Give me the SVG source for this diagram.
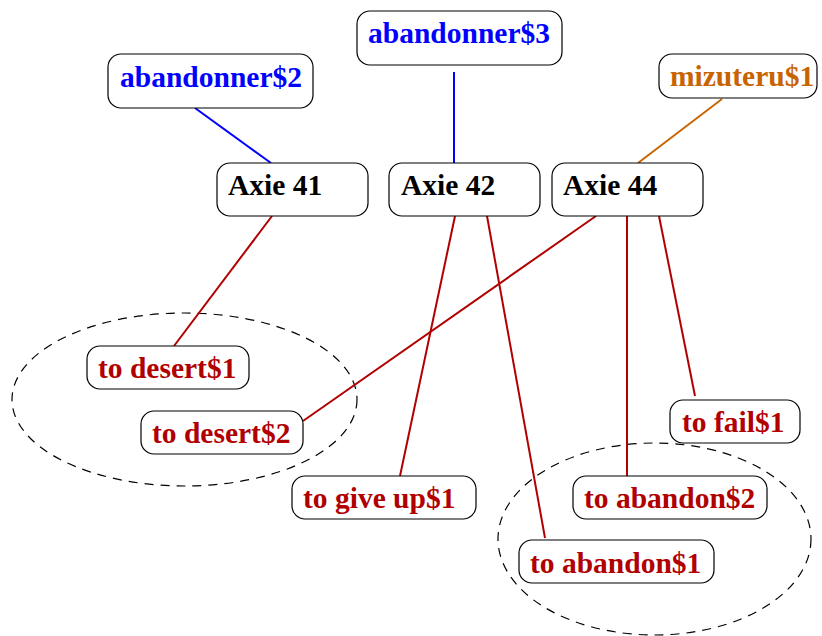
<svg xmlns="http://www.w3.org/2000/svg" width="822" height="636" viewBox="0 0 822 636">
<style>
.box{fill:#fff;stroke:#000;stroke-width:1.2}
text{font-family:"Liberation Serif","Times New Roman",serif;font-weight:bold;font-size:29.5px}
.k{fill:#000}.b{fill:#0000ff}.o{fill:#c86400}.r{fill:#b00000}
.eb{stroke:#0000ff;stroke-width:2;fill:none}
.eo{stroke:#c86400;stroke-width:2;fill:none}
.er{stroke:#b00000;stroke-width:2;fill:none}
.grp{fill:none;stroke:#000;stroke-width:1.2;stroke-dasharray:9 7}
</style>
<rect width="822" height="636" fill="#fff"/>
<g id="groups">
<ellipse class="grp" cx="184.5" cy="399.5" rx="172.5" ry="86.5"/>
<ellipse class="grp" cx="654.5" cy="539" rx="156.5" ry="96"/>
</g>
<g id="connectors">
<line class="eb" x1="195" y1="108" x2="271" y2="163"/>
<line class="eb" x1="454" y1="72" x2="454" y2="163"/>
<line class="eo" x1="722" y1="99" x2="638" y2="163"/>
<line class="er" x1="272" y1="216" x2="174" y2="346"/>
<line class="er" x1="596" y1="216" x2="303" y2="421"/>
<line class="er" x1="455" y1="216" x2="400" y2="476"/>
<line class="er" x1="487" y1="216" x2="545" y2="538"/>
<line class="er" x1="627" y1="216" x2="627" y2="476"/>
<line class="er" x1="659" y1="216" x2="695" y2="396"/>
</g>
<g id="abandonner2"><rect class="box" x="108" y="54" width="205" height="54" rx="13"/><text class="b" x="120" y="87">abandonner$2</text></g>
<g id="abandonner3"><rect class="box" x="357" y="11" width="205" height="54" rx="13"/><text class="b" x="368" y="43">abandonner$3</text></g>
<g id="mizuteru1"><rect class="box" x="659" y="54" width="158" height="44" rx="13"/><text class="o" x="670" y="86">mizuteru$1</text></g>
<g id="axie41"><rect class="box" x="217" y="163" width="151" height="53" rx="13"/><text class="k" x="228" y="195">Axie 41</text></g>
<g id="axie42"><rect class="box" x="389" y="163" width="151" height="53" rx="13"/><text class="k" x="401" y="195">Axie 42</text></g>
<g id="axie44"><rect class="box" x="552" y="163" width="151" height="53" rx="13"/><text class="k" x="563" y="195">Axie 44</text></g>
<g id="desert1"><rect class="box" x="87" y="346" width="162" height="43" rx="13"/><text class="r" x="98" y="378">to desert$1</text></g>
<g id="desert2"><rect class="box" x="141" y="411" width="162" height="43" rx="13"/><text class="r" x="152" y="443">to desert$2</text></g>
<g id="fail1"><rect class="box" x="670" y="400" width="130" height="43" rx="13"/><text class="r" x="682" y="432">to fail$1</text></g>
<g id="giveup1"><rect class="box" x="292" y="476" width="184" height="43" rx="13"/><text class="r" x="303" y="508">to give up$1</text></g>
<g id="abandon2"><rect class="box" x="573" y="476" width="194" height="43" rx="13"/><text class="r" x="584" y="508">to abandon$2</text></g>
<g id="abandon1"><rect class="box" x="519" y="540" width="195" height="43" rx="13"/><text class="r" x="530" y="573">to abandon$1</text></g>
</svg>
